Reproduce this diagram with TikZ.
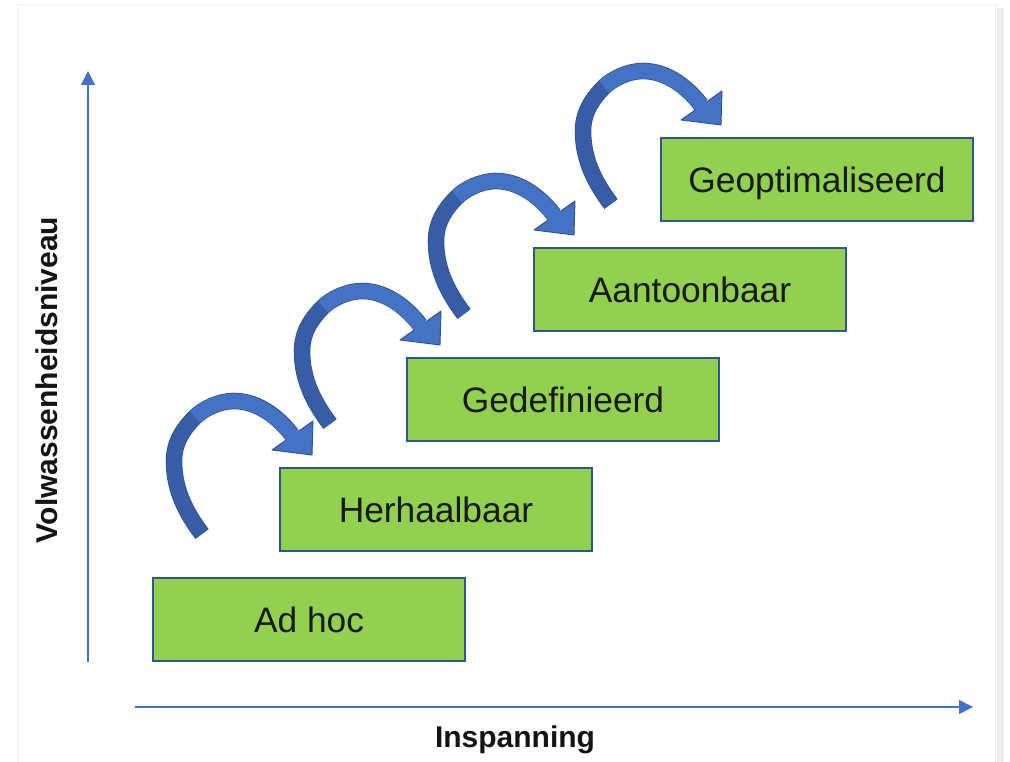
\documentclass[tikz,border=0pt]{standalone}
\usepackage{fontspec}
\setmainfont{Liberation Sans}
\definecolor{tredegroen}{RGB}{146,208,80}
\definecolor{trederand}{RGB}{47,85,151}
\definecolor{pijlblauw}{RGB}{68,114,196}
\definecolor{pijldonker}{RGB}{54,93,165}
\definecolor{pijlrand}{RGB}{47,82,143}
\usetikzlibrary{positioning,arrows.meta,calc}
\tikzset{
  trede/.style={draw=trederand,fill=tredegroen,line width=1.5pt,
               minimum width=234pt,minimum height=62.25pt,inner sep=0pt,
               text height=19pt,text depth=0pt,text=black!90,
               font=\fontsize{26.5}{30}\selectfont},
  as/.style={-{Triangle[length=10.5pt,width=10.5pt]},line width=1.1pt,pijlblauw},
  aslabel/.style={font=\fontsize{22.5}{26}\selectfont\bfseries,text=black!92},
  bocht/.pic={
    \draw[line width=12.4pt,pijlrand]
      (50,-43) .. controls (35,-63) and (22,-86) .. (22,-116)
      .. controls (22,-136) and (33,-150) .. (43,-160)
      .. controls (51,-168) and (67,-176) .. (82,-176)
      .. controls (107,-176) and (128,-158) .. (140,-142);
    \filldraw[fill=pijlblauw,draw=pijlrand,line width=.7pt,line join=round]
      (120,-127) -- (161,-156) -- (160,-122) -- cycle;
    \draw[line width=11.25pt,pijldonker]
      (50,-43) .. controls (35,-63) and (22,-86) .. (22,-116)
      .. controls (22,-136) and (33,-150) .. (43,-160);
    \draw[line width=11.25pt,pijlblauw]
      (43,-160) .. controls (51,-168) and (67,-176) .. (82,-176)
      .. controls (107,-176) and (129,-157) .. (142,-139);
  },
}
\begin{document}
\begin{tikzpicture}[x=0.75pt,y=-0.75pt,node distance=18.75pt]
  \useasboundingbox (0,0) rectangle (1010,762);
  % achtergrond
  \fill[white] (0,0) rectangle (1010,762);
  \fill[black!7] (997,8) rectangle (1004,762);
  \fill[white,draw=black!6] (17,4) rectangle (995,770);

  \node[trede] (s1) at (309,619.5) {Ad hoc};
  \node[trede,above=of s1,xshift=95.25pt] (s2) {Herhaalbaar};
  \node[trede,above=of s2,xshift=95.25pt] (s3) {Gedefinieerd};
  \node[trede,above=of s3,xshift=95.25pt] (s4) {Aantoonbaar};
  \node[trede,above=of s4,xshift=95.25pt] (s5) {Geoptimaliseerd};

  \foreach \bron/\dx in {s1/0,s2/1,s3/8,s4/28}
    \pic at ($(\bron.north west)+(\dx,0)$) {bocht};

  % assen
  \coordinate (y0) at (88,662);
  \coordinate (y1) at (88,71);
  \coordinate (x0) at (135,707);
  \coordinate (x1) at (973,707);
  \draw[as] (y0) -- (y1);
  \draw[as] (x0) -- (x1);
  \node[aslabel,rotate=90,anchor=base] (ylabel) at (57,380) {Volwassenheidsniveau};
  \node[aslabel,anchor=base] (xlabel) at (515,747) {Inspanning};
\end{tikzpicture}
\end{document}
